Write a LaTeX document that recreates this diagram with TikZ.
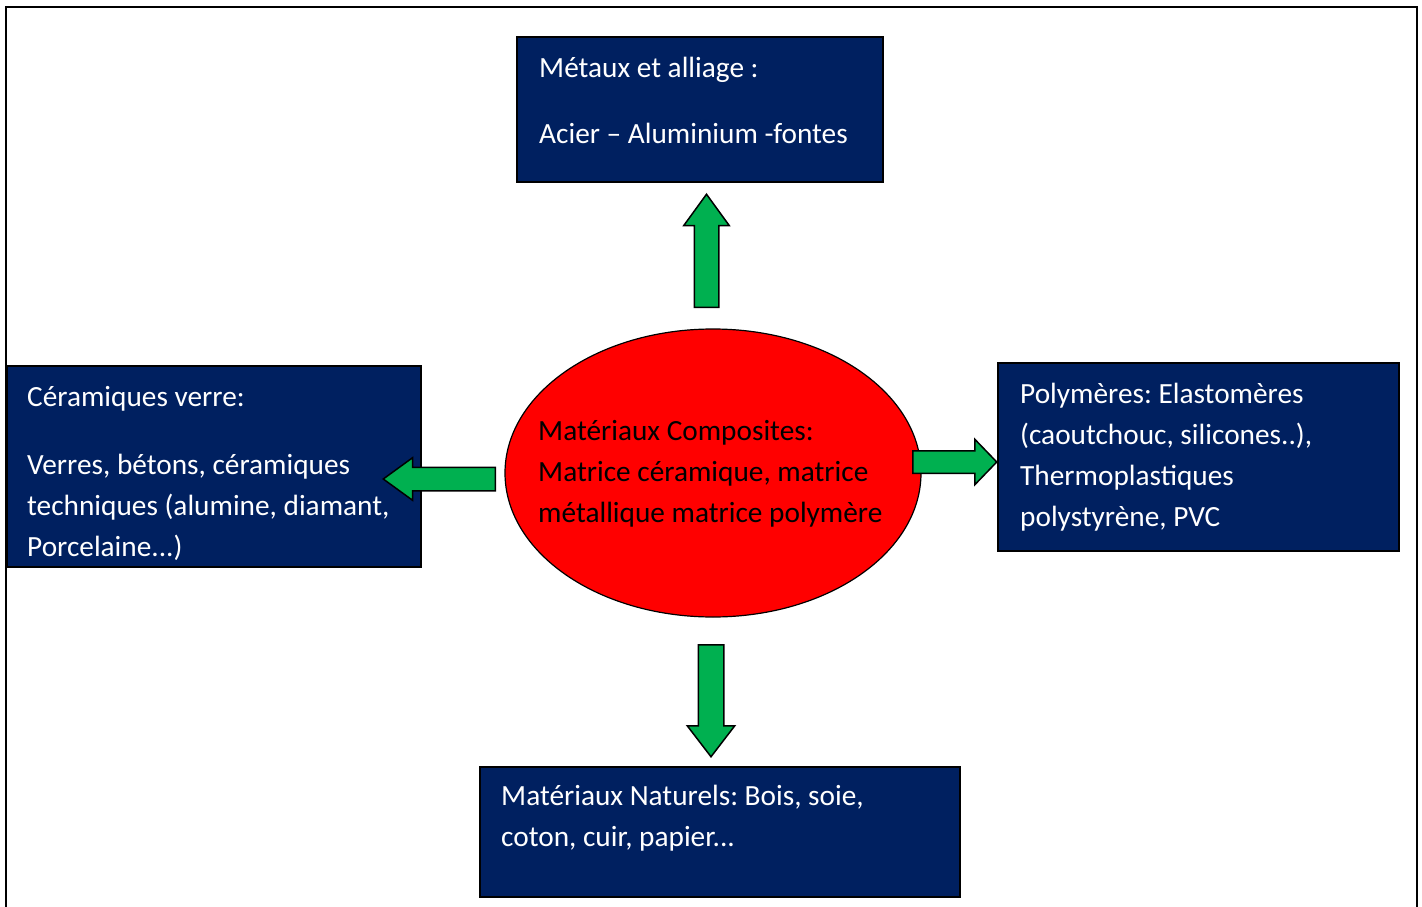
\documentclass[tikz,border=0pt]{standalone}
\usepackage{fontspec}
\setmainfont{Carlito}
\usetikzlibrary{shapes.geometric,shapes.arrows}
\frenchspacing

\definecolor{marine}{HTML}{002060}
\definecolor{vert}{HTML}{00B050}

\begin{document}
\begin{tikzpicture}[x=1pt,y=-1pt,
	boite/.style={draw=black,fill=marine,line width=1.5pt,inner sep=0pt},
	texte/.style={text=white,align=left,inner sep=0pt,anchor=base west,font=\fontsize{29.3}{41}\selectfont},
	fleche/.style={single arrow,draw=black,fill=vert,line width=1.5pt,inner xsep=0pt,minimum width=0pt,anchor=tail}]
\useasboundingbox (0,0) rectangle (1422,907);
% cadre
\draw[line width=2.5pt] (6,907) -- (6,7) -- (1417,7) -- (1417,907);
% les familles de materiaux
\node[boite,minimum width=366pt,minimum height=145pt] (metaux) at (700,109.5) {};
\node[boite,minimum width=414pt,minimum height=201pt] (ceram) at (214,466.5) {};
\node[boite,minimum width=401pt,minimum height=188pt] (poly) at (1198.5,457) {};
\node[boite,minimum width=480pt,minimum height=130pt] (natur) at (720,832) {};
\node[ellipse,draw=black,fill=red,line width=1.2pt,minimum width=416pt,minimum height=288pt] (compo) at (713,473) {};
% textes (ancre sur la ligne de base de la derniere ligne)
\node[texte] (metaux-t) at (539,143) {Métaux et alliage :\\[25pt]Acier – Aluminium -fontes};
\node[texte] (ceram-t) at (27,556) {Céramiques verre:\\[27pt]Verres, bétons, céramiques\\techniques (alumine, diamant,\\Porcelaine...)};
\node[texte] (poly-t) at (1020,526) {Polymères: Elastomères\\(caoutchouc, silicones..),\\Thermoplastiques\\polystyrène, PVC};
\node[texte] (natur-t) at (501,846) {Matériaux Naturels: Bois, soie,\\coton, cuir, papier...};
\node[texte,text=black] (compo-t) at (538,522) {Matériaux Composites:\\Matrice céramique, matrice\\métallique matrice polymère};
% fleches
\node[fleche,rotate=90,inner ysep=11.5pt,single arrow head extend=10.5pt,single arrow tip angle=72,minimum height=113pt] (f-haut) at (706.5,308) {};
\node[fleche,rotate=180,inner ysep=11pt,single arrow head extend=9.5pt,single arrow tip angle=72,minimum height=112pt] (f-gauche) at (496,479) {};
\node[fleche,inner ysep=10.5pt,single arrow head extend=11.5pt,single arrow tip angle=92,minimum height=84pt] (f-droite) at (912,462) {};
\node[fleche,rotate=-90,inner ysep=12pt,single arrow head extend=11pt,single arrow tip angle=75,minimum height=112pt] (f-bas) at (711,644) {};
\end{tikzpicture}
\end{document}
